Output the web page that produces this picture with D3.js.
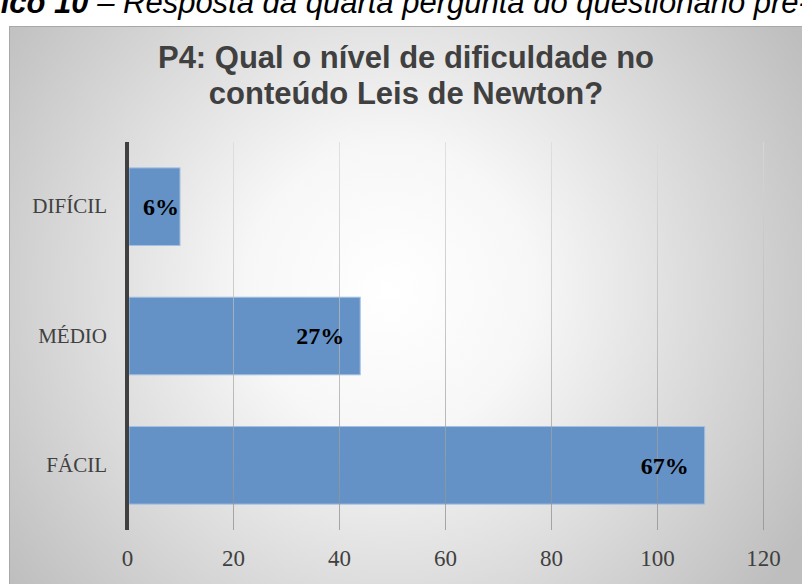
<!DOCTYPE html>
<html>
<head>
<meta charset="utf-8">
<script src="https://cdn.jsdelivr.net/npm/d3@7"></script>
<style>
  body { margin: 0; background: #fff; }
  svg { display: block; }
</style>
</head>
<body>
<div id="container"></div>
<script>
// data
const categories = ['DIFÍCIL', 'MÉDIO', 'FÁCIL'];
const values = [10, 44, 109];
const pctLabels = ['6%', '27%', '67%'];
const tickValues = [0, 20, 40, 60, 80, 100, 120];
const titleLines = ['P4: Qual o nível de dificuldade no', 'conteúdo Leis de Newton?'];
const captionBold = 'Gráfico 10';
const captionRest = ' – Resposta da quarta pergunta do questionário pré-teste';

const W = 802, H = 584;
const plot = { left: 127, right: 763, top: 142, bottom: 530 };

const svg = d3.select('#container')
              .append('svg')
              .attr('width', W)
              .attr('height', H);

const defs = svg.append('defs');

//---------------------
// BACKGROUND
//---------------------

const bg = defs.append('radialGradient')
               .attr('id', 'bg')
               .attr('gradientUnits', 'userSpaceOnUse')
               .attr('cx', 390).attr('cy', 290).attr('r', 480);
bg.append('stop').attr('offset', 0).attr('stop-color', '#ffffff');
bg.append('stop').attr('offset', 0.3).attr('stop-color', '#f7f7f7');
bg.append('stop').attr('offset', 1).attr('stop-color', '#bebebe');

// gridlines go darker towards the bottom
const gg = defs.append('linearGradient')
               .attr('id', 'grid')
               .attr('gradientUnits', 'userSpaceOnUse')
               .attr('x1', 0).attr('x2', 0)
               .attr('y1', plot.top).attr('y2', plot.bottom);
gg.append('stop').attr('offset', 0).attr('stop-color', '#dadada');
gg.append('stop').attr('offset', 1).attr('stop-color', '#8e8e8e');

svg.append('rect')
   .attr('x', 9.5).attr('y', 26.5)
   .attr('width', 820).attr('height', 600)
   .attr('fill', 'url(#bg)')
   .attr('stroke', '#a8a8a8');

//---------------------
// CAPTION (cut off at the top and sides)
//---------------------

const caption = svg.append('text')
                   .attr('x', 0)
                   .attr('y', 13)
                   .attr('font-family', 'Liberation Sans, Arial, sans-serif')
                   .attr('font-size', 31)
                   .attr('font-style', 'italic')
                   .attr('fill', '#000');
caption.append('tspan').attr('font-weight', 'bold').text(captionBold);
caption.append('tspan').text(captionRest);

// shift so that "Resposta" starts where it does in the picture
const rIdx = (captionBold + captionRest).indexOf('Resposta');
const rPos = caption.node().getStartPositionOfChar(rIdx).x;
caption.attr('x', 123 - rPos);

//---------------------
// SCALES
//---------------------

const x = d3.scaleLinear()
            .domain([0, 120])
            .range([plot.left, plot.right]);

const y = d3.scaleBand()
            .domain(categories)
            .range([plot.top, plot.bottom])
            .paddingInner(0.4)
            .paddingOuter(0.2);

//---------------------
// BARS
//---------------------

const rows = categories.map((c, i) => ({ cat: c, v: values[i], label: pctLabels[i] }));

svg.append('g')
   .selectAll('rect')
   .data(rows)
   .enter()
   .append('rect')
   .attr('x', x(0) + 2)
   .attr('y', d => y(d.cat))
   .attr('width', d => x(d.v) - x(0) - 2)
   .attr('height', y.bandwidth())
   .attr('fill', '#6592c6')
   .attr('stroke', '#a3c0e3')
   .attr('stroke-width', 1);

// gridlines sit faintly over the bars
svg.append('g')
   .selectAll('line')
   .data(tickValues.slice(1))
   .enter()
   .append('line')
   .attr('x1', d => x(d) + 0.5)
   .attr('x2', d => x(d) + 0.5)
   .attr('y1', plot.top)
   .attr('y2', plot.bottom)
   .attr('stroke', 'url(#grid)')
   .attr('stroke-opacity', 0.75)
   .attr('stroke-width', 1);

//---------------------
// AXES
//---------------------

const axisX = d3.axisBottom(x)
                .tickValues(tickValues)
                .tickSize(0)
                .tickPadding(20);

const gx = svg.append('g')
              .attr('transform', `translate(0, ${plot.bottom})`)
              .call(axisX);
gx.select('.domain').remove();
gx.selectAll('text')
  .attr('font-family', 'Liberation Serif, Cambria, serif')
  .attr('font-size', 23)
  .attr('fill', '#404040');

const axisY = d3.axisLeft(y)
                .tickSize(0)
                .tickPadding(20);

const gy = svg.append('g')
              .attr('transform', `translate(${plot.left}, 0)`)
              .call(axisY);
gy.select('.domain').remove();
gy.selectAll('text')
  .attr('font-family', 'Liberation Serif, Cambria, serif')
  .attr('font-size', 21)
  .attr('fill', '#404040');

// thick vertical axis line
svg.append('line')
   .attr('x1', x(0)).attr('x2', x(0))
   .attr('y1', plot.top).attr('y2', plot.bottom)
   .attr('stroke', '#404040')
   .attr('stroke-width', 4);

//---------------------
// DATA LABELS (inside end)
//---------------------

svg.append('g')
   .selectAll('text')
   .data(rows)
   .enter()
   .append('text')
   .attr('y', d => y(d.cat) + y.bandwidth() / 2)
   .attr('dy', '0.35em')
   .attr('text-anchor', 'end')
   .attr('font-family', 'Liberation Serif, Cambria, serif')
   .attr('font-weight', 'bold')
   .attr('font-size', 24)
   .attr('fill', '#000')
   .text(d => d.label)
   .attr('x', function (d) {
     const tw = this.getComputedTextLength();
     return Math.max(x(d.v) - 16, x(0) + 16 + tw);
   });

//---------------------
// TITLE
//---------------------

svg.append('g')
   .selectAll('text')
   .data(titleLines)
   .enter()
   .append('text')
   .attr('x', 406)
   .attr('y', (d, i) => 68 + i * 36)
   .attr('text-anchor', 'middle')
   .attr('font-family', 'Liberation Sans, Arial, sans-serif')
   .attr('font-weight', 'bold')
   .attr('font-size', 31)
   .attr('fill', '#404040')
   .text(d => d);
</script>
</body>
</html>
